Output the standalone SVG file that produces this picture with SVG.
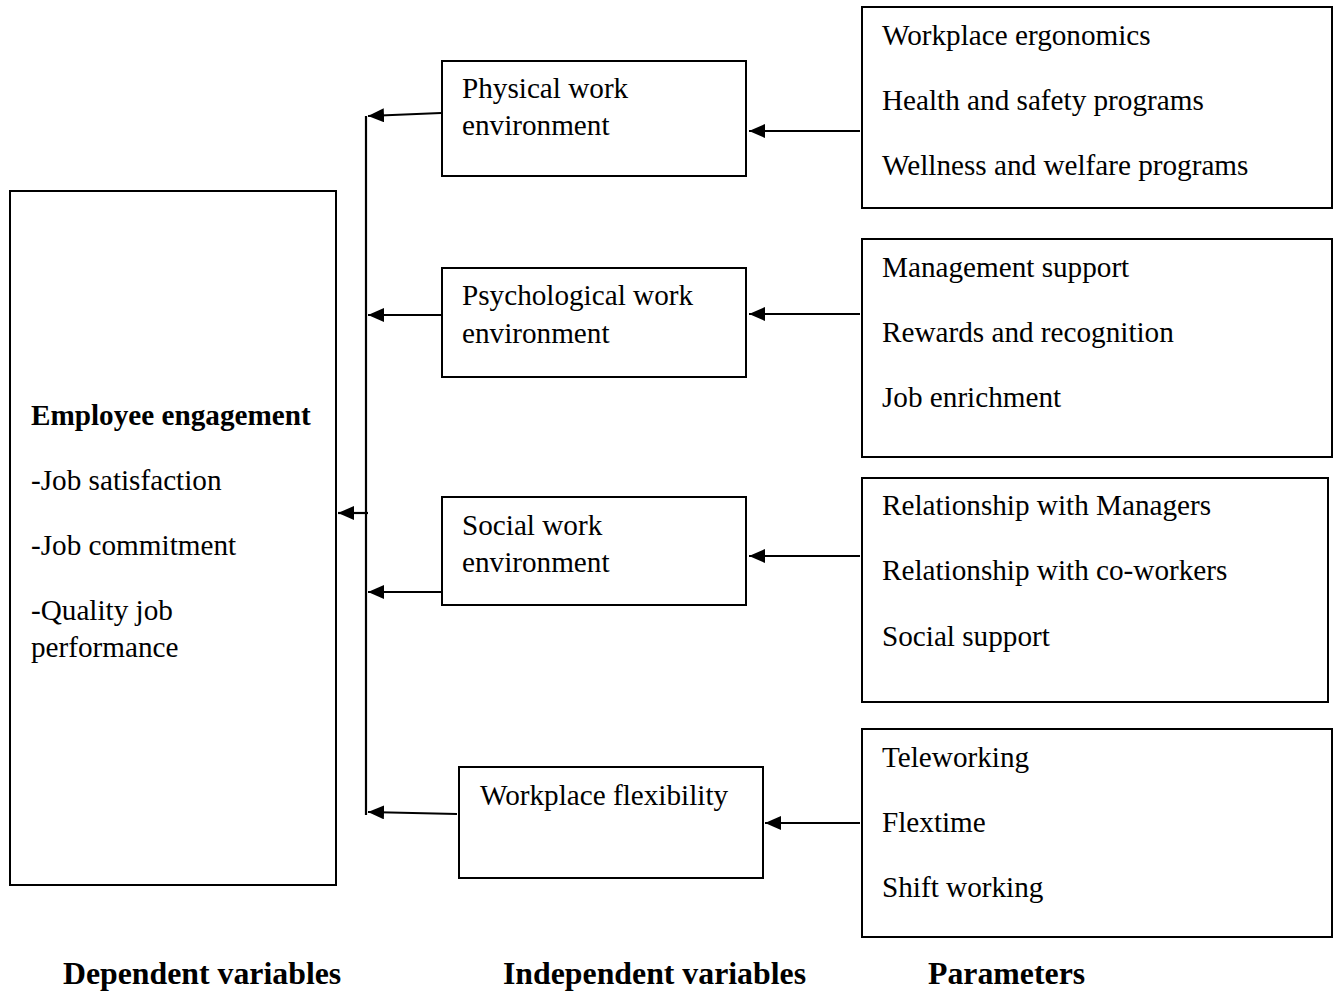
<svg xmlns="http://www.w3.org/2000/svg" width="1339" height="992" viewBox="0 0 1339 992">
<style>
.box{fill:#fff;stroke:#000;stroke-width:2}
.t{font-family:"Liberation Serif","Times New Roman",serif;font-size:29.2px;fill:#000}
.b{font-weight:bold}
.lbl{font-family:"Liberation Serif","Times New Roman",serif;font-size:31.8px;font-weight:bold;fill:#000}
.c{fill:none;stroke:#000;stroke-width:2.2}
</style>
<defs>
<marker id="ah" viewBox="0 0 16 14" refX="16" refY="7" markerWidth="16" markerHeight="14" markerUnits="userSpaceOnUse" orient="auto">
<path d="M0,0 L16,7 L0,14 Z" fill="#000"/>
</marker>
</defs>
<rect width="1339" height="992" fill="#fff"/>
<g id="connectors">
<line class="c" x1="366" y1="116" x2="366" y2="815"/>
<path class="c" d="M441,113 L368,116" marker-end="url(#ah)"/>
<path class="c" d="M441,315 L368,315" marker-end="url(#ah)"/>
<path class="c" d="M441,592 L368,592" marker-end="url(#ah)"/>
<path class="c" d="M457,814 L368,812" marker-end="url(#ah)"/>
<path class="c" d="M368,513 L338,513" marker-end="url(#ah)"/>
<path class="c" d="M860,131 L749,131" marker-end="url(#ah)"/>
<path class="c" d="M860,314 L749,314" marker-end="url(#ah)"/>
<path class="c" d="M860,556 L749,556" marker-end="url(#ah)"/>
<path class="c" d="M860,823 L765,823" marker-end="url(#ah)"/>
</g>
<g id="employee-engagement">
<rect class="box" x="10" y="191" width="326" height="694"/>
<text class="t b" x="31" y="425">Employee engagement</text>
<text class="t" x="31" y="490">-Job satisfaction</text>
<text class="t" x="31" y="555">-Job commitment</text>
<text class="t" x="31" y="620">-Quality job</text>
<text class="t" x="31" y="657">performance</text>
</g>
<g id="physical">
<rect class="box" x="442" y="61" width="304" height="115"/>
<text class="t" x="462" y="98">Physical work</text>
<text class="t" x="462" y="135">environment</text>
</g>
<g id="psychological">
<rect class="box" x="442" y="268" width="304" height="109"/>
<text class="t" x="462" y="305">Psychological work</text>
<text class="t" x="462" y="343">environment</text>
</g>
<g id="social">
<rect class="box" x="442" y="497" width="304" height="108"/>
<text class="t" x="462" y="535">Social work</text>
<text class="t" x="462" y="572">environment</text>
</g>
<g id="flexibility">
<rect class="box" x="459" y="767" width="304" height="111"/>
<text class="t" x="480" y="805">Workplace flexibility</text>
</g>
<g id="params-physical">
<rect class="box" x="862" y="7" width="470" height="201"/>
<text class="t" x="882" y="45">Workplace ergonomics</text>
<text class="t" x="882" y="110">Health and safety programs</text>
<text class="t" x="882" y="175">Wellness and welfare programs</text>
</g>
<g id="params-psychological">
<rect class="box" x="862" y="239" width="470" height="218"/>
<text class="t" x="882" y="277">Management support</text>
<text class="t" x="882" y="342">Rewards and recognition</text>
<text class="t" x="882" y="407">Job enrichment</text>
</g>
<g id="params-social">
<rect class="box" x="862" y="478" width="466" height="224"/>
<text class="t" x="882" y="515">Relationship with Managers</text>
<text class="t" x="882" y="580">Relationship with co-workers</text>
<text class="t" x="882" y="646">Social support</text>
</g>
<g id="params-flexibility">
<rect class="box" x="862" y="729" width="470" height="208"/>
<text class="t" x="882" y="767">Teleworking</text>
<text class="t" x="882" y="832">Flextime</text>
<text class="t" x="882" y="897">Shift working</text>
</g>
<g id="labels">
<text class="lbl" x="63" y="984">Dependent variables</text>
<text class="lbl" x="503" y="984">Independent variables</text>
<text class="lbl" x="928" y="984">Parameters</text>
</g>
</svg>
